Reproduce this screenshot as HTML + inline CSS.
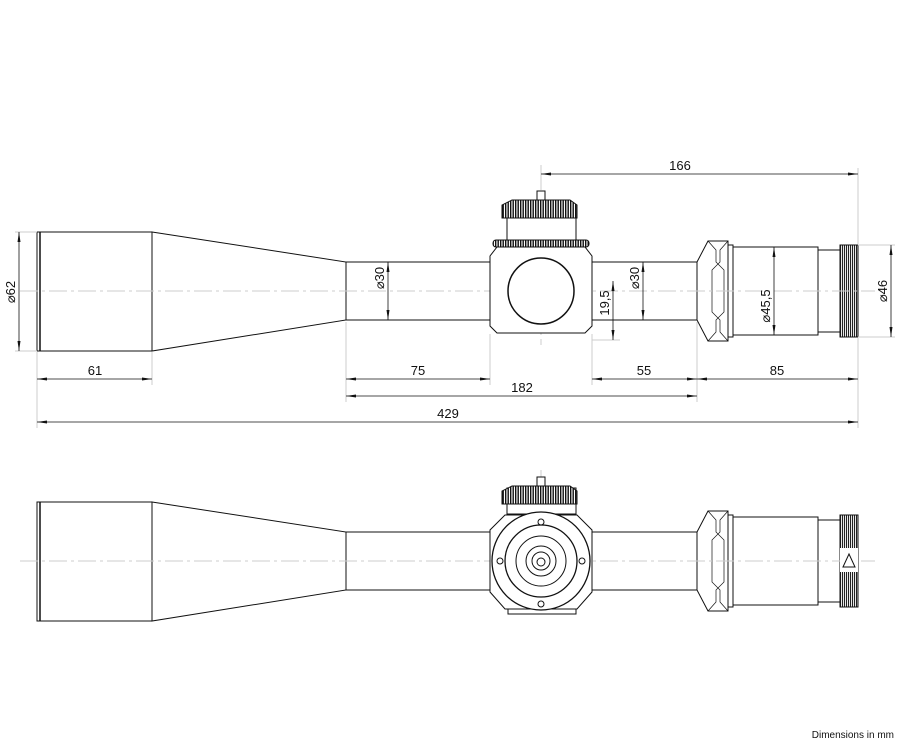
<!DOCTYPE html>
<html><head><meta charset="utf-8"><style>body{margin:0;background:#fff}svg{display:block}text{font-family:"Liberation Sans",sans-serif;fill:#111}</style></head><body>
<svg width="900" height="750" viewBox="0 0 900 750" xmlns="http://www.w3.org/2000/svg">
<defs>
<marker id="a" viewBox="0 0 10 6" refX="10" refY="3" markerWidth="10" markerHeight="6" orient="auto-start-reverse" markerUnits="userSpaceOnUse"><path d="M0,1.5 L10,3 L0,4.5z" fill="#111"/></marker>
<pattern id="k" width="2.5" height="10" patternUnits="userSpaceOnUse"><rect width="2.5" height="10" fill="#fff"/><rect width="1.4" height="10" fill="#111"/></pattern>
<pattern id="kv" width="2" height="10" patternUnits="userSpaceOnUse"><rect width="2" height="10" fill="#fff"/><rect width="1.1" height="10" fill="#222"/></pattern>
</defs>
<g id="s" stroke="#111" stroke-width="1" fill="#fff">
<rect x="37" y="232" width="115" height="119"/>
<line x1="40" y1="232" x2="40" y2="351" stroke-width="1.5"/>
<path d="M152,232 L346,262 L346,320 L152,351z"/>
<rect x="346" y="262" width="351" height="58"/>
<path d="M697,262 L708,241 L728,241 L728,341 L708,341 L697,320z"/>
<path d="M708,241 L716,250 L716,262 L724,270 L724,312 L716,320 L716,332 L708,341" fill="none" stroke-width="0.7"/>
<path d="M728,241 L720,250 L720,262 L712,270 L712,312 L720,320 L720,332 L728,341" fill="none" stroke-width="0.7"/>
<rect x="728" y="245" width="5" height="92"/>
<rect x="733" y="247" width="85" height="88"/>
<rect x="818" y="250" width="22" height="82"/>
<rect x="840" y="245" width="18" height="92" fill="url(#kv)"/>
</g>
<use href="#s" y="270"/>
<g stroke="#ccc" stroke-width="1" fill="none">
<line x1="20" y1="291" x2="875" y2="291" stroke-dasharray="18,4,3,4"/>
<line x1="20" y1="561" x2="875" y2="561" stroke-dasharray="18,4,3,4"/>
<line x1="541" y1="165" x2="541" y2="345" stroke-dasharray="18,4,3,4"/>
<line x1="541" y1="470" x2="541" y2="615" stroke-dasharray="18,4,3,4"/>
<line x1="37" y1="352" x2="37" y2="428"/><line x1="152" y1="352" x2="152" y2="385"/>
<line x1="346" y1="322" x2="346" y2="402"/><line x1="490" y1="334" x2="490" y2="385"/>
<line x1="592" y1="334" x2="592" y2="385"/><line x1="697" y1="322" x2="697" y2="402"/>
<line x1="858" y1="338" x2="858" y2="428"/><line x1="541" y1="168" x2="541" y2="190"/><line x1="858" y1="168" x2="858" y2="244"/>
<line x1="15" y1="232" x2="37" y2="232"/><line x1="15" y1="351" x2="37" y2="351"/>
<line x1="858" y1="245" x2="895" y2="245"/><line x1="858" y1="337" x2="895" y2="337"/>
<line x1="592" y1="340" x2="620" y2="340"/>
</g>
<g stroke="#111" stroke-width="1" fill="#fff">
<path d="M497,247 L585,247 L592,256 L592,326 L585,333 L497,333 L490,326 L490,256z"/>
<circle cx="541" cy="291" r="33" stroke-width="1.5"/>
<rect x="493" y="240" width="96" height="7" rx="3" fill="url(#k)"/>
<rect x="507" y="218" width="69" height="22"/>
<path d="M502,218 L502,205 L512,200 L570,200 L577,205 L577,218z" fill="url(#k)"/>
<rect x="537" y="191" width="8" height="9"/>
</g>
<g stroke="#111" stroke-width="1" fill="#fff">
<rect x="507" y="488" width="69" height="26"/>
<path d="M502,504 L502,491 L512,486 L570,486 L577,491 L577,504z" fill="url(#k)"/>
<rect x="537" y="477" width="8" height="9"/>
<path d="M505,515 L577,515 L592,530 L592,592 L577,609 L505,609 L490,592 L490,530z"/>
<rect x="508" y="609" width="68" height="5"/>
<circle cx="541" cy="561" r="49" stroke-width="1.3"/>
<circle cx="541" cy="561" r="36" stroke-width="1.3"/>
<circle cx="541" cy="561" r="25"/>
<circle cx="541" cy="561" r="15"/>
<circle cx="541" cy="561" r="9"/>
<circle cx="541" cy="562" r="4"/>
<circle cx="541" cy="522" r="3"/><circle cx="541" cy="604" r="3"/>
<circle cx="500" cy="561" r="3"/><circle cx="582" cy="561" r="3"/>
<rect x="840" y="548" width="18" height="24" stroke="none"/>
<path d="M843,567 L849,554 L855,567z" fill="#fff"/>
</g>
<g stroke="#111" stroke-width="0.8" fill="none" marker-start="url(#a)" marker-end="url(#a)">
<line x1="37" y1="379" x2="152" y2="379"/>
<line x1="346" y1="379" x2="490" y2="379"/>
<line x1="592" y1="379" x2="697" y2="379"/>
<line x1="697" y1="379" x2="858" y2="379"/>
<line x1="346" y1="396" x2="697" y2="396"/>
<line x1="37" y1="422" x2="858" y2="422"/>
<line x1="541" y1="174" x2="858" y2="174"/>
<line x1="19" y1="232" x2="19" y2="351"/>
<line x1="388" y1="262" x2="388" y2="320"/>
<line x1="643" y1="262" x2="643" y2="320"/>
<line x1="613" y1="281" x2="613" y2="340"/>
<line x1="774" y1="247" x2="774" y2="335"/>
<line x1="891" y1="245" x2="891" y2="337"/>
</g>
<g font-size="13" text-anchor="middle">
<text x="95" y="375">61</text><text x="418" y="375">75</text><text x="644" y="375">55</text><text x="777" y="375">85</text>
<text x="522" y="392">182</text><text x="448" y="418">429</text><text x="680" y="170">166</text>
<text transform="translate(15,292) rotate(-90)">⌀62</text>
<text transform="translate(384,278) rotate(-90)">⌀30</text>
<text transform="translate(639,278) rotate(-90)">⌀30</text>
<text transform="translate(609,303) rotate(-90)">19,5</text>
<text transform="translate(770,306) rotate(-90)">⌀45,5</text>
<text transform="translate(887,291) rotate(-90)">⌀46</text>
</g>
<text x="894" y="738" font-size="10" text-anchor="end">Dimensions in mm</text>
</svg>
</body></html>
